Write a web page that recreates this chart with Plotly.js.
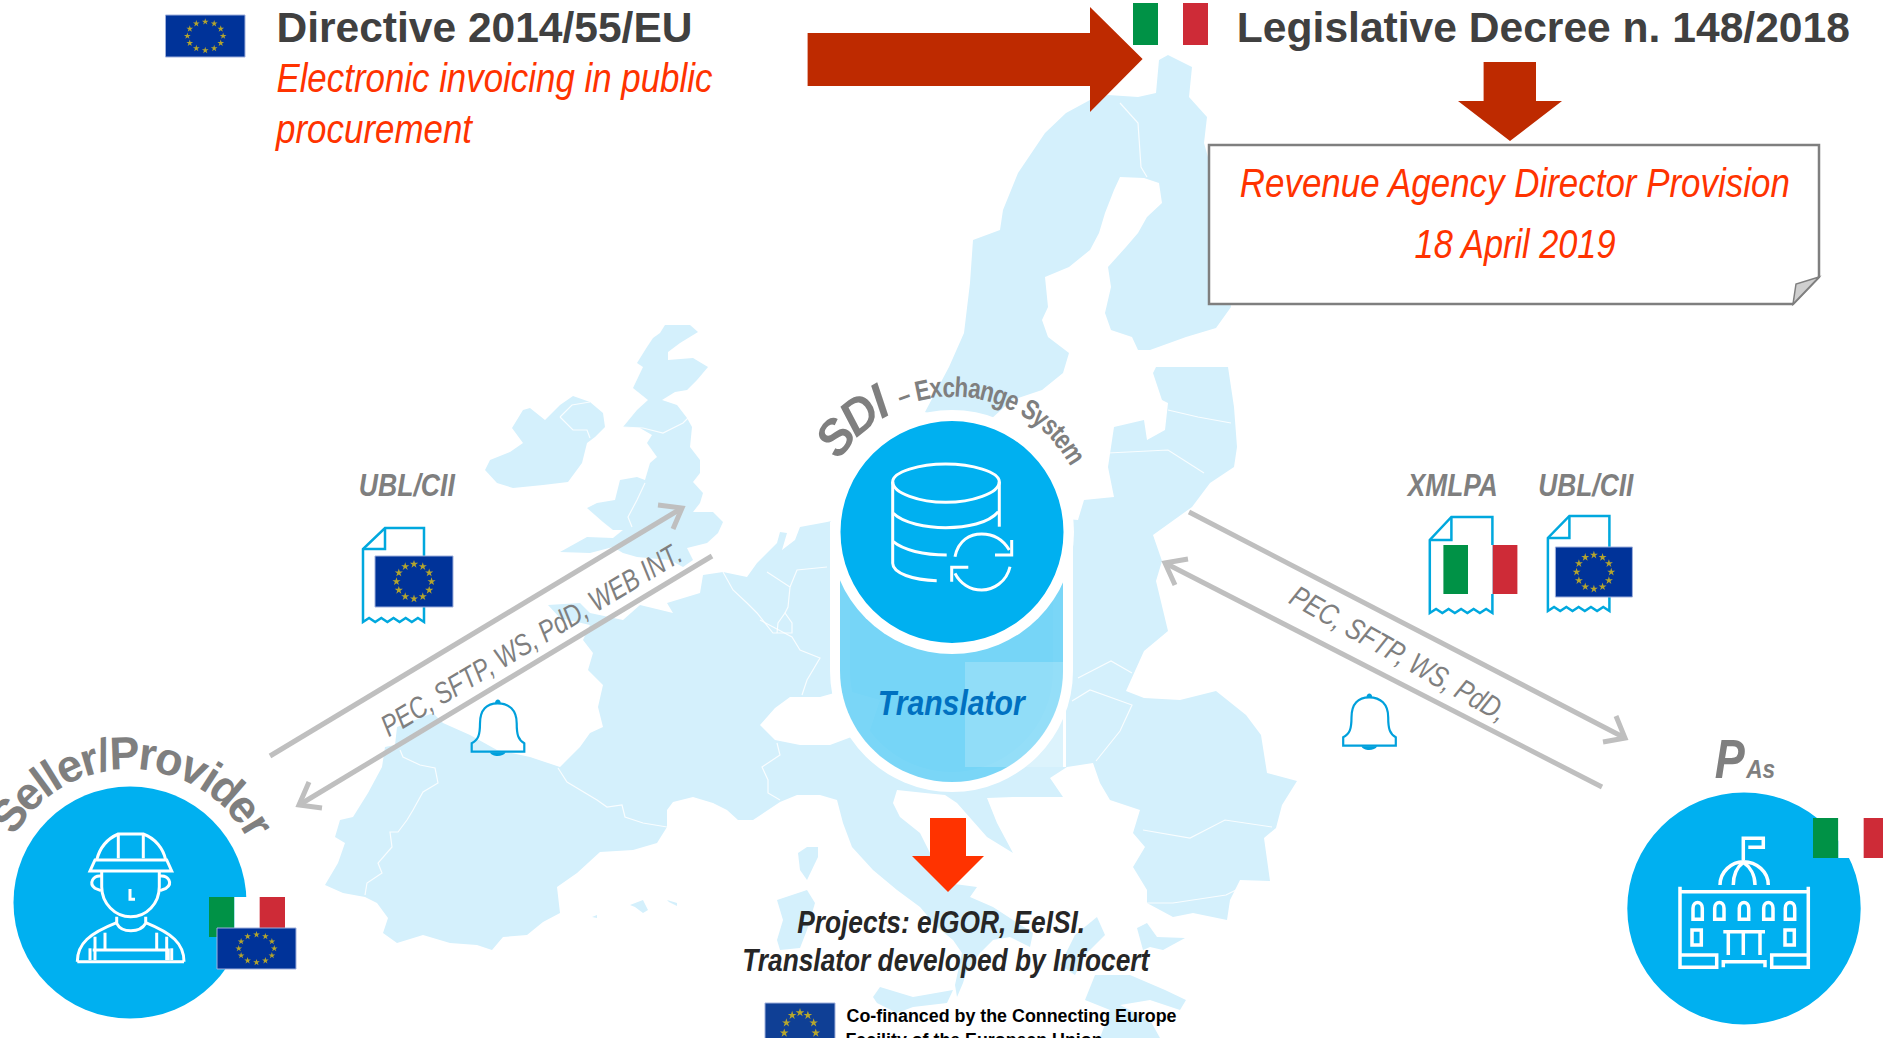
<!DOCTYPE html>
<html><head><meta charset="utf-8">
<script src="https://cdn.plot.ly/plotly-3.0.1.min.js"></script>
<style>html,body{margin:0;padding:0;background:#fff;overflow:hidden}#g{width:1883px;height:1038px}</style>
</head><body><div id="g"></div>
<script>
// ---- map outlines ----
const ireland=[[485,470],[490,460],[510,452],[523,443],[512,428],[523,410],[530,408],[545,420],[560,405],[573,396],[590,402],[603,413],[605,427],[595,437],[587,443],[582,463],[568,482],[543,485],[513,488],[497,483]];
const britain=[[665,325],[690,325],[698,332],[680,343],[668,352],[668,360],[693,358],[708,367],[697,380],[687,390],[675,392],[662,400],[677,405],[687,418],[692,427],[690,447],[700,460],[700,473],[693,482],[703,493],[700,503],[693,512],[713,512],[723,522],[718,533],[707,543],[687,548],[693,560],[683,567],[670,560],[637,557],[623,553],[613,547],[590,553],[560,552],[587,537],[613,538],[623,530],[613,530],[603,522],[587,508],[597,503],[615,500],[620,480],[637,477],[645,480],[650,463],[657,457],[647,443],[652,435],[640,428],[623,427],[637,410],[648,400],[633,388],[643,367],[637,363],[647,347],[653,338],[660,333]];
const scandinavia=[[1168,55],[1192,67],[1189,97],[1207,117],[1204,143],[1220,200],[1231,307],[1216,328],[1186,337],[1150,350],[1138,350],[1132,337],[1111,330],[1105,313],[1111,287],[1108,267],[1126,247],[1138,233],[1147,217],[1162,203],[1159,183],[1144,178],[1120,177],[1114,190],[1105,213],[1099,233],[1090,250],[1069,267],[1045,277],[1048,307],[1042,320],[1048,337],[1069,353],[1063,373],[1042,390],[1012,400],[990,420],[950,420],[925,412],[949,367],[964,333],[970,283],[973,240],[1000,230],[1003,210],[1018,173],[1045,133],[1066,113],[1090,100],[1108,95],[1138,97],[1156,93],[1159,60]];
const mainland=[[548,605],[580,603],[590,613],[623,620],[640,605],[673,613],[667,603],[700,593],[703,575],[723,572],[747,577],[757,563],[777,543],[780,532],[787,533],[782,550],[795,540],[800,527],[827,522],[900,505],[1078,520],[1084,500],[1114,497],[1108,467],[1114,427],[1144,420],[1147,440],[1165,430],[1168,403],[1162,400],[1153,373],[1156,367],[1228,367],[1234,407],[1237,447],[1234,467],[1210,483],[1192,507],[1153,535],[1162,561],[1156,581],[1168,631],[1144,651],[1126,691],[1144,698],[1180,700],[1216,691],[1246,715],[1261,735],[1267,773],[1297,781],[1282,805],[1276,828],[1264,838],[1270,881],[1240,880],[1230,900],[1227,920],[1193,913],[1173,917],[1147,903],[1147,890],[1133,867],[1145,847],[1133,833],[1140,810],[1110,800],[1100,783],[1093,763],[1067,767],[1050,778],[1063,797],[1013,797],[987,798],[997,823],[1013,853],[987,837],[957,803],[945,795],[925,793],[897,790],[893,803],[900,817],[920,833],[930,853],[947,883],[977,887],[970,897],[993,907],[1033,933],[1030,947],[1010,937],[993,940],[980,953],[967,970],[963,983],[957,997],[955,985],[962,953],[953,940],[937,927],[920,907],[897,890],[873,870],[852,847],[843,823],[837,800],[820,795],[797,795],[780,802],[753,820],[738,820],[727,810],[713,803],[693,797],[673,802],[667,810],[667,827],[657,843],[633,850],[600,852],[577,873],[557,887],[560,913],[543,922],[527,935],[503,937],[492,950],[477,945],[450,943],[423,935],[397,943],[383,933],[388,918],[377,903],[365,897],[343,893],[325,885],[338,863],[345,843],[335,837],[340,820],[353,817],[368,793],[382,767],[385,747],[395,745],[397,727],[433,713],[443,723],[470,735],[497,750],[530,757],[560,767],[580,747],[590,733],[603,727],[598,707],[603,685],[588,670],[593,653],[583,640],[590,625],[560,618]];
const alps=[[760,725],[775,708],[790,697],[820,697],[845,690],[880,700],[870,730],[830,745],[800,745],[775,740]];
const corsica=[[798,853],[807,847],[818,847],[818,857],[807,880],[800,870]];
const sardinia=[[777,900],[807,890],[815,903],[807,930],[800,948],[780,950],[777,940],[783,920]];
const sicily=[[873,997],[880,987],[913,997],[953,990],[947,1003],[913,1007],[897,1013],[877,1003]];
const mallorca=[[630,905],[643,900],[648,910],[643,913],[635,907]];
const minorca=[[667,900],[677,903],[677,906],[669,902]];
const ibiza=[[592,917],[597,915],[597,918]];
const albania=[[1097,917],[1105,935],[1085,955],[1075,975],[1060,965],[1075,935]];
const aegean=[[1137,928],[1147,923],[1157,937],[1185,938],[1163,950],[1150,947],[1143,950]];
const greece=[[1095,975],[1130,975],[1165,990],[1186,1000],[1180,1010],[1150,1000],[1120,1005],[1150,1020],[1160,1038],[1100,1038],[1110,1010],[1085,1000]];
const borders=[
 [[400,750],[403,757],[420,765],[435,768],[438,783],[423,792],[413,810],[407,820],[398,832],[390,832],[392,847],[378,863],[382,873],[367,883],[365,895]],
 [[558,768],[567,782],[597,800],[607,807],[622,805],[625,817],[643,823],[667,827]],
 [[760,620],[792,637],[800,650],[820,658],[807,680],[802,695]],
 [[777,743],[780,755],[762,767],[768,780],[768,793],[780,800]],
 [[723,572],[733,590],[747,603],[757,613],[773,633],[792,633],[792,623],[785,613],[778,623],[777,633]],
 [[767,572],[790,587],[788,607],[785,613]],[[790,587],[797,570],[827,567]],
 [[1143,830],[1190,838],[1225,820],[1272,827]],
 [[1147,903],[1173,903],[1226,895],[1236,890]],
 [[1072,701],[1090,690],[1132,705],[1120,731],[1096,761]],
 [[1078,678],[1111,661],[1132,673]],
 [[1120,103],[1138,123],[1141,167],[1147,177]],
 [[1108,453],[1168,450],[1204,473]],[[1168,410],[1198,417],[1231,423]],
 [[623,427],[643,428],[663,433],[683,423],[688,418]],
 [[645,483],[637,500],[628,517],[632,527]],
 [[560,417],[573,430],[587,430],[590,438]],[[560,417],[572,405],[590,402]]
];
// ---- flags and icons ----
const euFlags=[[165.5,15,245,57],[375,556,453,607],[1555.4,547,1632.4,597],[217,928,296,969],[765,1003,835,1063]];
const itFlags=[[1133,3,1208,45],[1443.4,545,1517.4,594],[209,897,285,937],[1813,818,1889,858]];
const flagBlue='#003399', flagBlue2='#0F3F95', starGold='#FFD400';
const seaArrow=[[807.6,33],[1090,33],[1090,7],[1142.6,59],[1090,112],[1090,86],[807.6,86]];
const downArrowDark=[[1483.6,62],[1536,62],[1536,101],[1562,101],[1510,141],[1458,101],[1483.6,101]];
const downArrowOrange=[[930,818],[966,818],[966,856],[984,856],[948,892],[912,856],[930,856]];
const noteBox=[[1209,145],[1819,145],[1819,277],[1793,304],[1209,304]];
const noteFold=[[1819,277],[1796,284],[1793,304]];
const arrowLines=[
 [[270,756],[682,508]],[[658,505],[682,508],[673,529]],
 [[712,556],[299,805]],[[309,782],[299,805],[322,808]],
 [[1189,512],[1625,738]],[[1616,716],[1625,738],[1603,742]],
 [[1602,787],[1165,563]],[[1188,559],[1165,563],[1175,585]]
];
const docs=[[363,424,528,622,549,385],[1429.8,1492.4,517,613,540,1451.4],[1547.9,1609.4,516,611,538,1569.4]];
const bellOffsets=[[0,0],[871.5,-6]];

// ---- text ----
const wide='"Liberation Sans",Arial,sans-serif';
const grey='#7F7F7F', red='#FF3300', dark='#404040';
const labels=[
 {t:'Directive 2014/55/EU',x:484,b:42,s:42,w:700,c:dark,fit:416},
 {t:'Legislative Decree n. 148/2018',x:1543,b:42,s:42,w:700,c:dark,fit:613},
 {t:'Electronic invoicing in public',x:494,b:92,s:41,i:1,c:red,fit:436},
 {t:'procurement',x:374,b:143,s:41,i:1,c:red,fit:196},
 {t:'Revenue Agency Director Provision',x:1515,b:197,s:41,i:1,c:red,fit:550},
 {t:'18 April 2019',x:1515,b:258,s:41,i:1,c:red,fit:201},
 {t:'UBL/CII',x:407,b:496,s:32,i:1,w:700,c:grey,fit:96},
 {t:'XMLPA',x:1452,b:496,s:32,i:1,w:700,c:grey,fit:90},
 {t:'UBL/CII',x:1586,b:496,s:32,i:1,w:700,c:grey,fit:95},
 {t:'Translator',x:952,b:715,s:35,i:1,w:700,c:'#0070C0',fit:147},
 {t:'Projects: eIGOR, EeISI.',x:940.5,b:933,s:32,i:1,w:700,c:'#262626',fit:288},
 {t:'Translator developed by Infocert',x:946,b:971,s:32,i:1,w:700,c:'#262626',fit:407},
 {t:'Co-financed by the Connecting Europe',x:1011,b:1022,s:18,w:700,c:'#000',fit:330},
 {t:'PEC, SFTP, WS, PdD, WEB INT.',x:531,b:650,s:30,i:1,c:grey,r:-31,fit:345},
 {t:'PEC, SFTP, WS, PdD,',x:1399,b:664,s:30,i:1,c:grey,r:29.5,fit:244},
 {t:'P',x:1730,b:778,s:56,i:1,w:700,c:grey,fit:30},
 {t:'As',x:1760,b:778,s:26,i:1,w:700,c:grey,fit:29}
];
const arcs=[
 {t:'Seller/Provider',cx:130,cy:902,r:149,start:-60,s:46,w:700,sq:0.98},
 {t:'SDI',cx:952,cy:532,r:150,start:-57,s:50,w:700,i:1,sq:0.96},
 {t:'– Exchange System',cx:952,cy:532,r:145,start:-22,s:28,w:700,sq:0.80}
];

// ---- helpers that turn the arrays into shapes on the axes ----
const shapes=[];
const xy=p=>p.map((q,i)=>(i?'L':'M')+q[0]+' '+q[1]).join(' ');
function add(path,fill,lc,lw,extra){shapes.push(Object.assign({type:'path',xref:'x',yref:'y',layer:'below',path:path,fillcolor:fill||'rgba(0,0,0,0)',line:{color:lc||'rgba(0,0,0,0)',width:lw||0}},extra||{}));}
function poly(p,fill,lc,lw){add(xy(p)+' Z',fill,lc,lw);}
function rect(x0,y0,x1,y1,fill,lc,lw){shapes.push({type:'rect',xref:'x',yref:'y',layer:'below',x0,y0,x1,y1,fillcolor:fill,line:{color:lc||'rgba(0,0,0,0)',width:lw||0}});}
function circ(cx,cy,rx,ry,fill){shapes.push({type:'circle',xref:'x',yref:'y',layer:'below',x0:cx-rx,x1:cx+rx,y0:cy-ry,y1:cy+ry,fillcolor:fill,line:{width:0}});}
function crop(d,ox,oy,s,dx,dy){let n=0;return d.replace(/-?\d+(\.\d+)?/g,m=>{const v=+m/s;const r=(n%2===0)?ox+v+(dx||0):oy+v+(dy||0);n++;return r.toFixed(1);});}

// map
const land='#D4F0FC';
[ireland,britain,scandinavia,mainland,corsica,sardinia,sicily,mallorca,minorca,ibiza,albania,aegean,greece].forEach(p=>poly(p,land));
poly(alps,'#FFFFFF');
borders.forEach(b=>add(xy(b),null,'rgba(255,255,255,0.85)',1.2));

// arrows and note
poly(seaArrow,'#BE2A00');
poly(downArrowDark,'#BE2A00');
poly(noteBox,'#FFFFFF','#7F7F7F',2.5);
poly(noteFold,'#CFCFCF','#7F7F7F',1.5);
poly(downArrowOrange,'#FF3300');

// transfer arrows
arrowLines.forEach(a=>add(xy(a),null,'#BFBFBF',5));

// bells
const bell='M485 395 L485 370 C505 360 510 345 510 310 C510 270 530 250 563 250 C597 250 620 270 620 310 C620 345 625 360 643 370 L643 395 Z';
const clap='M540 397 C545 412 580 412 587 397 Z';
const knob='M555 250 C555 235 572 235 572 250 Z';
bellOffsets.forEach(o=>{
 add(crop(bell,310,620,3,o[0],o[1]),null,'#00A0DC',2.2);
 add(crop(clap,310,620,3,o[0],o[1]),'#00A0DC');
 add(crop(knob,310,620,3,o[0],o[1]),'#00A0DC');
});

// documents
docs.forEach(d=>{
 const [x0,x1,y0,y1,fy,fx]=d;const waves=[];const n=10;
 for(let i=0;i<=n;i++)waves.push([x1-(x1-x0)*i/n,y1-(i%2?4:0)]);
 add(xy([[fx,y0],[x1,y0]].concat(waves).concat([[x0,fy]]))+' Z',null,'#00A8DE',2.5);
 add(xy([[fx,y0],[fx,fy],[x0,fy]]),null,'#00A8DE',2.5);
});

// capsule and circle
rect(1063,662,1066,767,'#FFFFFF');
const capsule='M840 532 L840 671 C840 732 890 782 952 782 C1013 782 1063 732 1063 671 L1063 532 Z';
add(capsule,'rgba(255,255,255,0.78)','#FFFFFF',20);
add(capsule,'rgba(0,176,240,0.52)');
rect(965,662,1063,767,'rgba(255,255,255,0.2)');
circ(952,532,122,122,'#FFFFFF');
circ(952,532,111.5,111,'#00B0F0');
const white={c:'#FFFFFF'};
function icon(paths,ox,oy,s,w){paths.forEach(p=>add(crop(p,ox,oy,s),null,white.c,w));}
icon(['M338 365 C338 335 420 312 497 312 C575 312 658 335 658 365 C658 400 575 427 497 427 C420 427 338 400 338 365 Z',
 'M338 365 L338 610 C338 640 400 660 470 662','M658 365 L658 500',
 'M340 460 C370 490 440 503 497 503 C560 503 625 490 655 455','M340 545 C370 570 430 585 500 585',
 'M525 590 C535 540 570 522 605 522 C640 522 670 540 688 570','M695 540 L695 585 L645 585',
 'M690 620 C680 665 640 690 605 690 C570 690 540 670 525 640','M515 665 L515 622 L565 622'],780,360,3,3);

// seller
circ(130,902.5,116.5,116,'#00B0F0');
icon(['M290 360 C300 320 325 295 355 282 L430 282 C465 295 490 325 497 360','M355 282 L355 355','M430 282 L430 355',
 'M285 360 L500 360 L515 393 L270 393 Z','M305 395 L305 440 C305 490 345 530 392 530 C440 530 478 490 478 440 L478 395',
 'M303 408 C280 405 265 430 285 445 L303 452','M480 408 C505 405 520 430 498 445 L480 452','M390 447 L390 478 L405 478',
 'M350 530 L350 550 C365 580 420 580 437 550 L437 530','M232 665 C232 610 270 580 350 548','M552 665 C552 610 515 580 437 548',
 'M232 665 L552 665','M285 590 L285 660','M315 578 L315 630','M470 578 L470 630','M500 590 L500 660','M270 625 L270 660','M515 625 L515 660','M278 630 L505 630 L505 660'],0,740,3,3);

// public administrations
circ(1744,908.5,116.7,116,'#00B0F0');
const win=[293,358,432,505,570].map(x=>`M${x-14} 568 L${x-14} 535 C${x-14} 512 ${x+14} 512 ${x+14} 535 L${x+14} 568 Z`);
icon(['M430 390 L430 325 L490 325 L490 352 L445 352','M360 465 C360 425 395 395 430 395 C470 395 505 425 505 465','M400 465 C400 435 412 410 430 397 C450 410 465 435 465 465',
 'M240 470 L240 712 L350 712 L350 675 L240 675','M625 470 L625 712 L515 712 L515 675 L625 675','M240 485 L625 485',
 'M276 600 L304 600 L304 645 L276 645 Z','M555 600 L583 600 L583 645 L555 645 Z',
 'M370 605 L495 605','M385 605 L385 675','M430 605 L430 675','M480 605 L480 675','M370 712 L370 695 L495 695 L495 712'].concat(win),1600,730,3,3.5);

// flags
itFlags.forEach(f=>{const w=(f[2]-f[0])/3;
 rect(f[0],f[1],f[0]+w,f[3],'#009246');rect(f[0]+w,f[1],f[0]+2*w,f[3],'#FFFFFF');rect(f[0]+2*w,f[1],f[2],f[3],'#CE2B37');});
euFlags.forEach((f,i)=>rect(f[0],f[1],f[2],f[3],i===4?flagBlue2:flagBlue,'#9FB0DC',1));

// stars
const sx=[],sy=[],ss=[];
euFlags.forEach(f=>{const cx=(f[0]+f[2])/2,cy=(f[1]+f[3])/2,w=f[2]-f[0],h=f[3]-f[1];
 for(let k=0;k<12;k++){sx.push(cx+w*0.225*Math.sin(k*Math.PI/6));sy.push(cy-h*0.34*Math.cos(k*Math.PI/6));ss.push(Math.max(5,Math.min(h*0.12,6.5)));}});

// text -> annotations
const ann=[], fits=[];
function note(l){
 const o={xref:'x',yref:'y',x:l.x,y:l.b-0.3465*l.s,text:l.t,showarrow:false,xanchor:'center',yanchor:'middle',borderpad:0,borderwidth:0,
  font:{family:wide,size:l.s,color:l.c,weight:l.w||400,style:l.i?'italic':'normal'}};
 if(l.r){o.textangle=l.r;}
 fits[ann.length]=l.fit;
 ann.push(o);
}
labels.forEach(note);
fits[ann.length]=257;
ann.push({xref:'x',yref:'y',x:974,y:1029,text:'Facility of the European Union',showarrow:false,xanchor:'center',yanchor:'top',borderpad:0,font:{family:wide,size:18,weight:700,color:'#000'}});
const ctx=document.createElement('canvas').getContext('2d');
arcs.forEach(a=>{
 ctx.font=`${a.i?'italic ':''}${a.w||400} ${a.s}px ${wide}`;
 const sq=a.sq||1;
 let th=a.start*Math.PI/180;
 for(const ch of a.t){
  const w=ctx.measureText(ch).width*sq; th+=w/2/a.r;
  if(ch!==' '){fits[ann.length]=w;ann.push({xref:'x',yref:'y',x:a.cx+a.r*Math.sin(th),y:a.cy-a.r*Math.cos(th),text:ch,showarrow:false,xanchor:'center',yanchor:'middle',textangle:th*180/Math.PI,borderpad:0,
   font:{family:wide,size:a.s,color:grey,weight:a.w||400,style:a.i?'italic':'normal'}});}
  th+=w/2/a.r;
 }
});

Plotly.newPlot('g',[{type:'scatter',mode:'markers',x:sx,y:sy,hoverinfo:'skip',showlegend:false,cliponaxis:true,
  marker:{symbol:'star',size:ss,color:starGold,line:{width:0}}}],
 {width:1883,height:1038,margin:{l:0,r:0,t:0,b:0,pad:0},paper_bgcolor:'#fff',plot_bgcolor:'#fff',showlegend:false,
  xaxis:{range:[0,1883],visible:false,fixedrange:true},yaxis:{range:[1038,0],visible:false,fixedrange:true},shapes:shapes,annotations:ann},
 {displayModeBar:false,staticPlot:true}).then(gd=>{
  // the reference's type is set condensed: fit each real text to its measured width
  gd.querySelectorAll('.annotation').forEach(g=>{
    const i=+g.getAttribute('data-index'), t=g.querySelector('text');
    if(t&&fits[i]){t.setAttribute('textLength',fits[i]);t.setAttribute('lengthAdjust','spacingAndGlyphs');}
  });
 });
</script></body></html>
